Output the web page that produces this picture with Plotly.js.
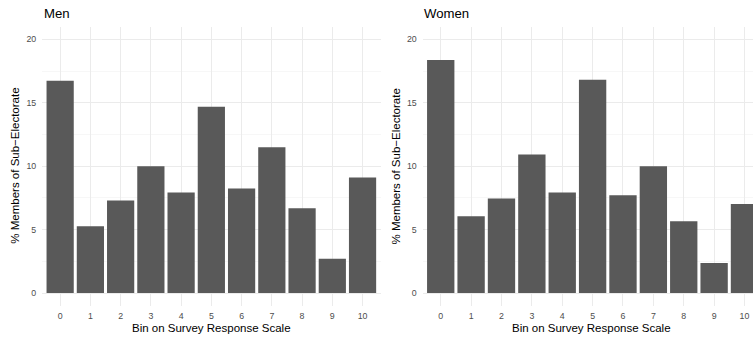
<!DOCTYPE html>
<html>
<head>
<meta charset="utf-8">
<script src="https://cdn.plot.ly/plotly-3.0.1.min.js"></script>
<style>html,body{margin:0;padding:0;background:#fff;}#chart{width:753px;height:338px;}</style>
</head>
<body>
<div id="chart"></div>
<script>
// Data
var bins = [0, 1, 2, 3, 4, 5, 6, 7, 8, 9, 10];
var binLabels = ["0", "1", "2", "3", "4", "5", "6", "7", "8", "9", "10"];
var menValues = [16.73, 5.26, 7.3, 10.0, 7.93, 14.69, 8.25, 11.49, 6.68, 2.7, 9.11];
var womenValues = [18.38, 6.05, 7.46, 10.92, 7.93, 16.81, 7.7, 10.0, 5.66, 2.36, 7.02];
var panelTitles = ["Men", "Women"];
var yTitle = "% Members of Sub\u2212Electorate";
var xTitle = "Bin on Survey Response Scale";
var yTicks = [0, 5, 10, 15, 20];

var W = 753, H = 338;
function px(x) { return x / W; }
function py(y) { return 1 - y / H; }

var FONT = "Liberation Sans, Arial, Helvetica, sans-serif";
var barColor = "#595959";

var traces = [
  {type: "bar", x: bins, y: menValues, xaxis: "x", yaxis: "y", marker: {color: barColor}, hoverinfo: "x+y"},
  {type: "bar", x: bins, y: womenValues, xaxis: "x2", yaxis: "y2", marker: {color: barColor}, hoverinfo: "x+y"}
];

var plotTop = 26.7, plotBottom = 305.7;
var menL = 42, menR = 380.7;
var womL = 422.5, womR = 753;

function xaxis(dom, rng) {
  return {
    domain: dom, range: rng, tickmode: "array", tickvals: bins, ticktext: binLabels,
    showgrid: true, gridcolor: "#EBEBEB", gridwidth: 1, zeroline: false, showline: false,
    ticks: "outside", ticklen: 2, tickcolor: "rgba(0,0,0,0)",
    tickfont: {family: FONT, size: 8.8, color: "#4D4D4D"}, fixedrange: true
  };
}
function yaxis(anchor) {
  return {
    domain: [py(plotBottom), py(plotTop)], range: [-1, 21], anchor: anchor,
    tickmode: "array", tickvals: yTicks, ticktext: yTicks.map(String),
    showgrid: true, gridcolor: "#EBEBEB", gridwidth: 1, zeroline: false, showline: false,
    minor: {tickmode: "array", tickvals: [2.5, 7.5, 12.5, 17.5], showgrid: true, gridcolor: "#F2F2F2", gridwidth: 0.6, ticks: ""},
    ticks: "outside", ticklen: 3, tickcolor: "rgba(0,0,0,0)",
    tickfont: {family: FONT, size: 8.8, color: "#4D4D4D"}, fixedrange: true
  };
}

var layout = {
  width: W, height: H,
  margin: {l: 0, r: 0, t: 0, b: 0, pad: 0},
  paper_bgcolor: "#ffffff", plot_bgcolor: "#ffffff",
  showlegend: false, bargap: 0.1,
  font: {family: FONT},
  xaxis: xaxis([px(menL), px(menR)], [-0.6, 10.6]),
  yaxis: yaxis("x"),
  xaxis2: Object.assign(xaxis([px(womL), px(womR)], [-0.6, 10.28]), {anchor: "y2"}),
  yaxis2: yaxis("x2"),
  annotations: [
    {text: panelTitles[0], xref: "paper", yref: "paper", x: px(menL), y: py(14), xanchor: "left", yanchor: "middle", showarrow: false, font: {family: FONT, size: 13.2, color: "#000"}},
    {text: panelTitles[1], xref: "paper", yref: "paper", x: px(womL), y: py(14), xanchor: "left", yanchor: "middle", showarrow: false, font: {family: FONT, size: 13.2, color: "#000"}},
    {text: xTitle, xref: "paper", yref: "paper", x: px((menL + menR) / 2), y: py(328.3), xanchor: "center", yanchor: "middle", showarrow: false, font: {family: FONT, size: 11.5, color: "#000"}},
    {text: xTitle, xref: "paper", yref: "paper", x: px(591.7), y: py(328.3), xanchor: "center", yanchor: "middle", showarrow: false, font: {family: FONT, size: 11.5, color: "#000"}},
    {text: yTitle, xref: "paper", yref: "paper", x: px(15.5), y: py((plotTop + plotBottom) / 2), xanchor: "center", yanchor: "middle", textangle: -90, showarrow: false, font: {family: FONT, size: 11.5, color: "#000"}},
    {text: yTitle, xref: "paper", yref: "paper", x: px(396.3), y: py((plotTop + plotBottom) / 2), xanchor: "center", yanchor: "middle", textangle: -90, showarrow: false, font: {family: FONT, size: 11.5, color: "#000"}}
  ]
};

Plotly.newPlot("chart", traces, layout, {displayModeBar: false, staticPlot: true});
</script>
</body>
</html>
